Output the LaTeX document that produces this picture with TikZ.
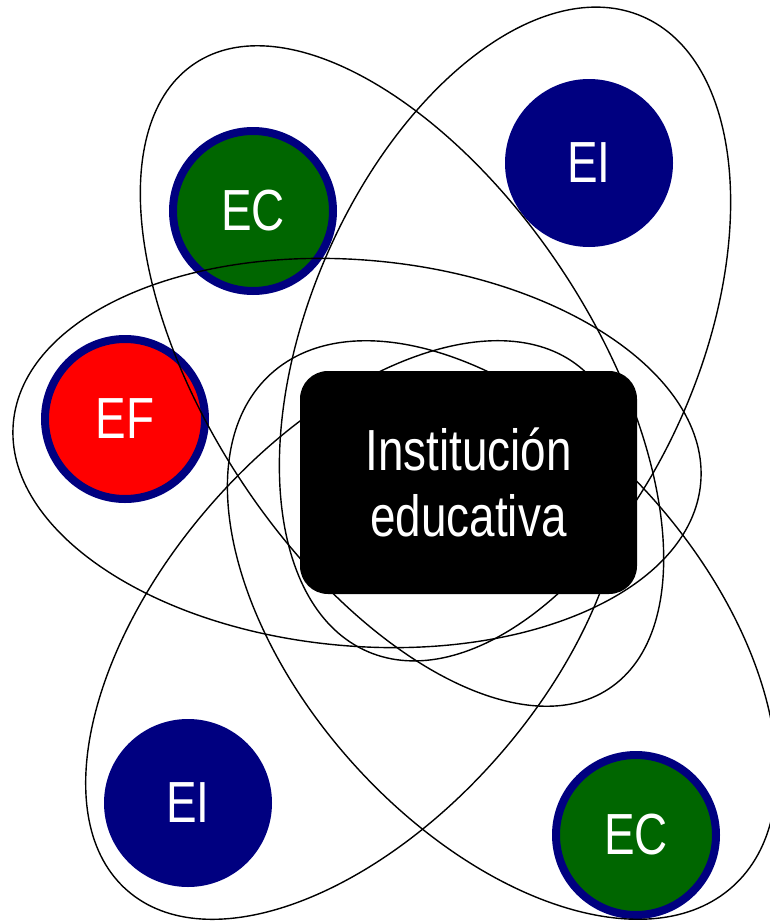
\documentclass[tikz,border=0pt]{standalone}
\usepackage{fontspec}
\setmainfont[FakeStretch=0.79]{Liberation Sans}
\usepackage{tikz}
\usetikzlibrary{shapes.geometric}
\definecolor{navyblue}{RGB}{0,0,128}
\definecolor{ecgreen}{RGB}{0,102,0}

\begin{document}
\begin{tikzpicture}[x=1pt,y=-1pt,
  ecirc/.style={circle,draw=navyblue,line width=8pt,minimum size=160pt,inner sep=0pt,text=white,font=\fontsize{58}{66}\selectfont},
  eicirc/.style={circle,fill=navyblue,minimum size=168pt,inner sep=0pt,text=white,font=\fontsize{58}{66}\selectfont},
  orbit/.style={ellipse,draw,line width=1.4pt,inner sep=0pt,minimum width=690pt,minimum height=386pt}]
\useasboundingbox (0,0) rectangle (769,921);
\node [ecirc,fill=ecgreen] (ectop) at (253,211) {EC};
\node [eicirc] (eitop) at (589,163) {EI};
\node [ecirc,fill=red] (ef) at (125,419) {EF};
\node [eicirc] (eibottom) at (188,803) {EI};
\node [ecirc,fill=ecgreen] (ecbottom) at (636,835) {EC};
% loops round the school
\node [orbit,rotate=-5] (efloop) at (357,453) {};
\node [orbit,rotate=-56.5,minimum width=750pt,minimum height=384pt] (ectoploop) at (402,376) {};
\node [orbit,rotate=66.6,minimum width=692pt,minimum height=390pt] (eitoploop) at (505,334) {};
\node [orbit,rotate=48.85,minimum width=692pt,minimum height=382pt] (eibottomloop) at (355,630) {};
\node [orbit,rotate=-48,minimum width=690pt,minimum height=400pt] (ecbottomloop) at (502,630) {};
\node [fill=black,rounded corners=28pt,minimum width=337pt,minimum height=223pt,text=white,align=center,font=\fontsize{58}{66}\selectfont] (school) at (468.5,482.5) {Institución\\educativa};
\end{tikzpicture}
\end{document}
